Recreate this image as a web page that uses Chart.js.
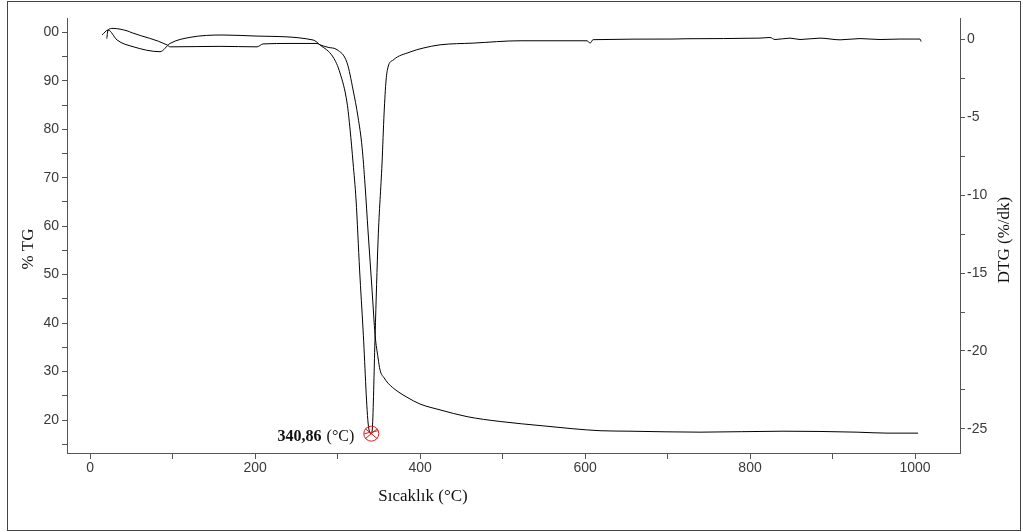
<!DOCTYPE html>
<html>
<head>
<meta charset="utf-8">
<script src="https://cdn.jsdelivr.net/npm/chart.js@4/dist/chart.umd.min.js"></script>
<style>
  html, body { margin: 0; padding: 0; background: #fff; overflow: hidden; }
  canvas { display: block; }
</style>
</head>
<body>
<canvas id="c" width="1023" height="532"></canvas>
<script>
// Thermogravimetric curve: temperature (°C) and remaining mass (%)
const tgTemp = [20.2, 21.8, 27.9, 44.8, 50.9, 93.3, 97.0, 157.6, 202.4, 209.7, 242.4, 275.2, 278.8,
  288.5, 299.4, 311.5, 318.8, 324.8, 329.7, 333.3, 337.0, 341.8, 345.5, 349.1, 351.5, 356.4, 361.2,
  372.1, 384.2, 400.0, 424.2, 457.0, 497.0, 549.1, 585.5, 618.2, 654.5, 739.4, 840.0, 929.7, 966.1, 1003.6];
const tgPercent = [98.7, 100.5, 100.8, 100.3, 99.9, 97.4, 97.0, 97.1, 97.0, 97.6, 97.7, 97.7, 97.4,
  96.9, 96.4, 93.7, 88.1, 82.5, 76.3, 68.5, 58.8, 46.8, 37.5, 32.8, 30.3, 28.7, 27.6,
  26.0, 24.7, 23.3, 22.1, 20.7, 19.7, 18.8, 18.2, 17.8, 17.7, 17.5, 17.7, 17.5, 17.3, 17.3];

// Derivative curve: temperature (°C) and mass loss rate (%/dk)
const dtgTemp = [14.5, 21.8, 32.7, 52.1, 84.8, 97.0, 121.2, 161.2, 202.4, 270.3, 278.8, 294.5, 303.0,
  311.5, 315.2, 318.8, 322.4, 326.7, 330.9, 337.0, 340.86, 342.4, 345.5, 349.1, 353.9, 356.4, 358.8,
  361.2, 367.3, 387.9, 403.6, 424.2, 464.2, 521.2, 602.4, 606.1, 609.7, 706.7, 723.6, 812.1, 824.2,
  830.3, 848.5, 860.6, 884.8, 909.1, 933.3, 957.6, 981.8, 1006.0, 1007.3];
const dtgRate = [0.26, 0.58, -0.06, -0.49, -0.81, -0.28, 0.11, 0.26, 0.19, -0.06, -0.38, -1.15, -2.18,
  -4.10, -5.83, -7.95, -10.32, -14.81, -18.65, -24.62, -25.3, -24.74, -18.97, -12.88, -7.95, -4.74, -2.63,
  -1.79, -1.35, -0.83, -0.58, -0.37, -0.26, -0.11, -0.11, -0.26, -0.04, 0.0, 0.02, 0.06, 0.10,
  -0.03, 0.06, -0.03, 0.06, -0.05, 0.03, -0.03, 0.0, 0.0, -0.16];

// Peak of the derivative curve
const peakTemp = 340.86;
const peakRate = -25.3;
const peakText = '340,86';
const peakUnit = '(°C)';

// Axis ticks and labels
const xTickValues = [0, 100, 200, 300, 400, 500, 600, 700, 800, 900, 1000];
const xTickLabels = ['0', '', '200', '', '400', '', '600', '', '800', '', '1000'];
const tgTickValues = [15, 20, 25, 30, 35, 40, 45, 50, 55, 60, 65, 70, 75, 80, 85, 90, 95, 100];
const tgTickLabels = ['', '20', '', '30', '', '40', '', '50', '', '60', '', '70', '', '80', '', '90', '', '00'];
const dtgTickValues = [0, -2.5, -5, -7.5, -10, -12.5, -15, -17.5, -20, -22.5, -25];
const dtgTickLabels = ['0', '', '-5', '', '-10', '', '-15', '', '-20', '', '-25'];

const xTitle = 'Sıcaklık (°C)';
const tgTitle = '% TG';
const dtgTitle = 'DTG (%/dk)';

// Plot frame in canvas pixels
const W = 1023, H = 532;
const AREA = { left: 67, right: 960, top: 18, bottom: 453 };

const tickFont = { family: "'Liberation Sans Narrow', 'Liberation Sans', Arial, sans-serif", size: 14 };
const tickColor = '#3a3a3a';
const axisColor = '#555';
const serif = "'Liberation Serif', 'Times New Roman', serif";

function labelFor(values, labels) {
  return (v) => {
    const i = values.findIndex(t => Math.abs(t - v) < 1e-6);
    return i >= 0 ? labels[i] : '';
  };
}
function fixedTicks(values) {
  return (scale) => { scale.ticks = values.map(v => ({ value: v })); };
}

const decor = {
  id: 'decor',
  beforeDraw(chart) {
    const ctx = chart.ctx;
    ctx.save();
    ctx.fillStyle = '#fff';
    ctx.fillRect(0, 0, W, H);
    ctx.restore();
  },
  afterDraw(chart) {
    const ctx = chart.ctx;
    const xs = chart.scales.x, ys = chart.scales.y2;
    ctx.save();
    // outer frame
    ctx.strokeStyle = '#444';
    ctx.lineWidth = 1;
    ctx.strokeRect(7.5, 1.5, 1013, 529);

    // axis titles
    ctx.fillStyle = '#111';
    ctx.font = `17px ${serif}`;
    ctx.textAlign = 'center';
    ctx.textBaseline = 'middle';
    ctx.fillText(xTitle, 423, 497);

    ctx.save();
    ctx.translate(29, 249);
    ctx.rotate(-Math.PI / 2);
    ctx.fillText(tgTitle, 0, 0);
    ctx.restore();

    ctx.save();
    ctx.translate(1005, 240);
    ctx.rotate(-Math.PI / 2);
    ctx.fillText(dtgTitle, 0, 0);
    ctx.restore();

    // peak marker
    const px = xs.getPixelForValue(peakTemp);
    const py = ys.getPixelForValue(peakRate);
    ctx.strokeStyle = '#d81e1e';
    ctx.lineWidth = 1;
    ctx.beginPath();
    ctx.arc(px, py, 7.5, 0, Math.PI * 2);
    ctx.stroke();
    ctx.beginPath();
    ctx.moveTo(px - 6, py - 5); ctx.lineTo(px + 6, py + 5);
    ctx.moveTo(px - 6, py + 5); ctx.lineTo(px + 6, py - 5);
    ctx.moveTo(px - 7, py); ctx.lineTo(px + 7, py - 3);
    ctx.stroke();

    // peak label
    ctx.fillStyle = '#111';
    ctx.textBaseline = 'middle';
    ctx.textAlign = 'right';
    ctx.font = `16px ${serif}`;
    const unitRight = px - 17;
    ctx.fillText(peakUnit, unitRight, py + 3);
    const unitW = ctx.measureText(peakUnit).width;
    ctx.font = `bold 16px ${serif}`;
    ctx.fillText(peakText, unitRight - unitW - 5, py + 3);
    ctx.restore();
  }
};

const tgPoints = tgTemp.map((t, i) => ({ x: t, y: tgPercent[i] }));
const dtgPoints = dtgTemp.map((t, i) => ({ x: t, y: dtgRate[i] }));

const lineStyle = { showLine: true, borderColor: '#000', borderWidth: 1, pointRadius: 0,
  cubicInterpolationMode: 'monotone', fill: false };

new Chart(document.getElementById('c'), {
  type: 'scatter',
  data: {
    datasets: [
      { label: tgTitle, data: tgPoints, yAxisID: 'y', ...lineStyle },
      { label: dtgTitle, data: dtgPoints, yAxisID: 'y2', ...lineStyle }
    ]
  },
  options: {
    responsive: false,
    devicePixelRatio: 1,
    animation: false,
    events: [],
    layout: { padding: { top: AREA.top, left: 0, right: 0, bottom: 0 } },
    plugins: { legend: { display: false }, tooltip: { enabled: false } },
    scales: {
      x: {
        type: 'linear', position: 'bottom', min: -28, max: 1054.5,
        afterBuildTicks: fixedTicks(xTickValues),
        afterFit: (s) => { s.height = H - AREA.bottom; },
        ticks: { autoSkip: false, maxRotation: 0, padding: 1, font: tickFont, color: tickColor,
                 callback: labelFor(xTickValues, xTickLabels) },
        grid: { drawOnChartArea: false, drawTicks: true, tickLength: 6, color: axisColor },
        border: { color: axisColor }
      },
      y: {
        type: 'linear', position: 'left', min: 13.2, max: 102.95,
        afterBuildTicks: fixedTicks(tgTickValues),
        afterFit: (s) => { s.width = AREA.left; },
        ticks: { autoSkip: false, padding: 3, font: tickFont, color: tickColor,
                 callback: labelFor(tgTickValues, tgTickLabels) },
        grid: { drawOnChartArea: false, drawTicks: true, tickLength: 5, color: axisColor },
        border: { color: axisColor }
      },
      y2: {
        type: 'linear', position: 'right', min: -26.54, max: 1.35,
        afterBuildTicks: fixedTicks(dtgTickValues),
        afterFit: (s) => { s.width = W - AREA.right; },
        ticks: { autoSkip: false, padding: 2, font: tickFont, color: tickColor,
                 callback: labelFor(dtgTickValues, dtgTickLabels) },
        grid: { drawOnChartArea: false, drawTicks: true, tickLength: 5, color: axisColor },
        border: { color: axisColor }
      }
    }
  },
  plugins: [decor]
});
</script>
</body>
</html>
